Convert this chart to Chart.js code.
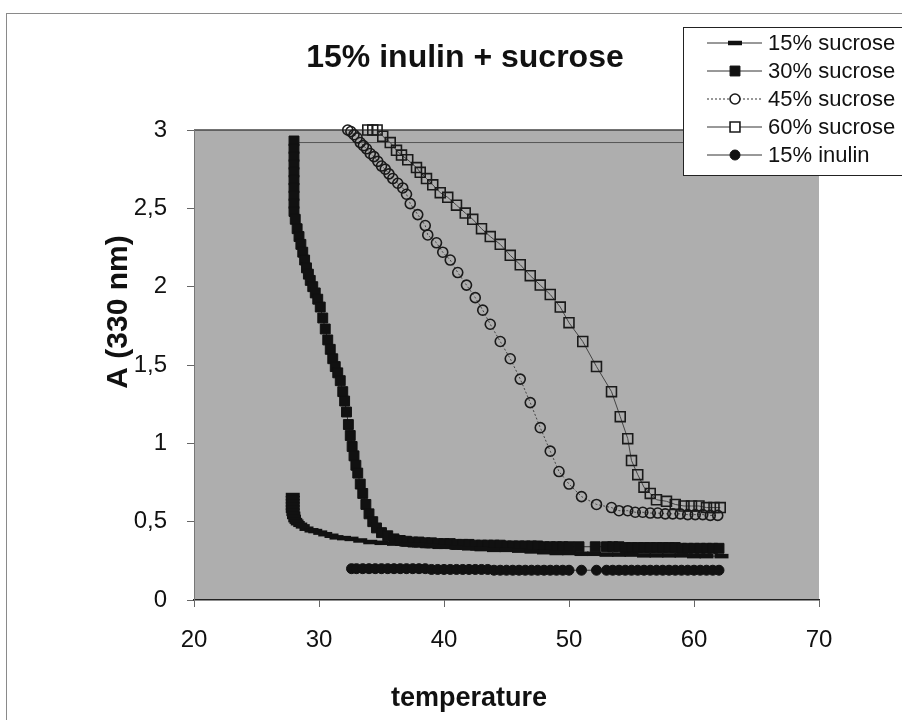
<!DOCTYPE html>
<html>
<head>
<meta charset="utf-8">
<title>15% inulin + sucrose</title>
<script src="https://cdn.jsdelivr.net/npm/chart.js@4.4.0/dist/chart.umd.min.js"></script>
<style>
  html, body { margin: 0; padding: 0; background: #fff; }
  canvas { display: block; }
</style>
</head>
<body>
<canvas id="scatter-chartcanvas" width="902" height="720"></canvas>
<script>
// values: temperature (x) and A at 330 nm (y)
var t15 = [27.9,27.9,27.9,27.9,27.9,27.9,27.95,28.0,28.1,28.2,28.3,28.5,28.7,29.0,29.4,29.7,30.1,30.5,31.0,31.4,32.0,32.6,33.3,34.1,35.0,36.0,37.0,38.0,39.0,40.0,41.0,42.0,43.0,44.0,45.0,46.0,47.0,48.0,49.0,50.0,51.0,52.0,53.0,54.0,55.0,56.0,57.0,58.0,59.0,60.0,61.0,62.2];
var a15 = [0.67,0.65,0.63,0.61,0.59,0.57,0.55,0.53,0.51,0.50,0.49,0.48,0.47,0.455,0.445,0.44,0.43,0.42,0.41,0.40,0.395,0.39,0.38,0.37,0.365,0.36,0.355,0.35,0.345,0.34,0.335,0.33,0.325,0.32,0.32,0.315,0.31,0.305,0.30,0.30,0.295,0.295,0.29,0.29,0.29,0.285,0.285,0.285,0.285,0.28,0.28,0.28];

var t30 = [28.0,28.0,28.0,28.0,28.0,28.0,28.0,28.0,28.0,28.0,28.1,28.25,28.4,28.55,28.7,28.85,29.0,29.15,29.3,29.5,29.7,29.9,30.1,30.3,30.5,30.7,30.9,31.1,31.3,31.5,31.7,31.9,32.05,32.2,32.35,32.5,32.65,32.8,32.95,33.1,33.3,33.5,33.75,34.0,34.3,34.6,35.0,35.5,36.0,36.5,37.0,37.5,38.0,38.5,39.0,39.5,40.0,40.5,41.0,41.5,42.0,42.5,43.0,43.5,44.0,44.5,45.0,45.5,46.0,46.5,47.0,47.5,48.0,48.5,49.0,49.5,50.0,50.8,52.1,53.0,53.5,54.0,54.5,55.0,55.5,56.0,56.5,57.0,57.5,58.0,58.5,59.0,59.5,60.0,60.5,61.0,61.5,62.0];
var a30 = [2.93,2.88,2.83,2.78,2.73,2.68,2.63,2.58,2.53,2.48,2.43,2.37,2.32,2.27,2.22,2.17,2.12,2.08,2.04,2.00,1.96,1.92,1.87,1.80,1.73,1.66,1.60,1.54,1.49,1.45,1.40,1.33,1.27,1.20,1.12,1.05,0.98,0.92,0.86,0.81,0.74,0.68,0.61,0.55,0.50,0.46,0.43,0.41,0.39,0.38,0.375,0.37,0.37,0.365,0.365,0.36,0.36,0.36,0.355,0.355,0.355,0.35,0.35,0.35,0.35,0.35,0.345,0.345,0.345,0.345,0.345,0.345,0.34,0.34,0.34,0.34,0.34,0.34,0.34,0.34,0.34,0.34,0.335,0.335,0.335,0.335,0.335,0.335,0.335,0.335,0.335,0.33,0.33,0.33,0.33,0.33,0.33,0.33];

var t45 = [32.3,32.55,32.8,33.05,33.3,33.55,33.8,34.1,34.4,34.7,35.0,35.3,35.6,35.9,36.3,36.7,37.0,37.3,37.9,38.5,38.7,39.4,39.9,40.5,41.1,41.8,42.5,43.1,43.7,44.5,45.3,46.1,46.9,47.7,48.5,49.2,50.0,51.0,52.2,53.4,54.0,54.7,55.3,55.9,56.5,57.1,57.7,58.3,58.9,59.5,60.1,60.7,61.3,61.9];
var a45 = [3.0,2.99,2.97,2.95,2.92,2.90,2.88,2.85,2.83,2.80,2.77,2.75,2.72,2.69,2.66,2.63,2.59,2.53,2.46,2.39,2.33,2.28,2.22,2.17,2.09,2.01,1.93,1.85,1.76,1.65,1.54,1.41,1.26,1.10,0.95,0.82,0.74,0.66,0.61,0.59,0.57,0.57,0.56,0.56,0.555,0.555,0.55,0.55,0.55,0.545,0.545,0.545,0.54,0.54];

var t60 = [33.9,34.3,34.65,35.1,35.7,36.2,36.6,37.1,37.8,38.1,38.6,39.1,39.7,40.3,41.0,41.7,42.3,43.0,43.7,44.5,45.3,46.1,46.9,47.7,48.5,49.3,50.0,51.1,52.2,53.4,54.1,54.7,55.0,55.5,56.0,56.5,57.0,57.8,58.5,59.2,59.8,60.4,61.0,61.6,62.1];
var a60 = [3.0,3.0,3.0,2.96,2.92,2.87,2.84,2.81,2.76,2.73,2.69,2.65,2.60,2.57,2.52,2.47,2.43,2.37,2.32,2.27,2.20,2.14,2.07,2.01,1.95,1.87,1.77,1.65,1.49,1.33,1.17,1.03,0.89,0.80,0.72,0.68,0.64,0.63,0.61,0.60,0.60,0.60,0.59,0.59,0.59];

var tInulin = [32.6,33.0,33.5,34.0,34.5,35.0,35.5,36.0,36.5,37.0,37.5,38.0,38.5,39.0,39.5,40.0,40.5,41.0,41.5,42.0,42.5,43.0,43.5,44.0,44.5,45.0,45.5,46.0,46.5,47.0,47.5,48.0,48.5,49.0,49.5,50.0,51.0,52.2,53.0,53.5,54.0,54.5,55.0,55.5,56.0,56.5,57.0,57.5,58.0,58.5,59.0,59.5,60.0,60.5,61.0,61.5,62.0];
var aInulin = [0.20,0.20,0.20,0.20,0.20,0.20,0.20,0.20,0.20,0.20,0.20,0.20,0.20,0.195,0.195,0.195,0.195,0.195,0.195,0.195,0.195,0.195,0.195,0.19,0.19,0.19,0.19,0.19,0.19,0.19,0.19,0.19,0.19,0.19,0.19,0.19,0.19,0.19,0.19,0.19,0.19,0.19,0.19,0.19,0.19,0.19,0.19,0.19,0.19,0.19,0.19,0.19,0.19,0.19,0.19,0.19,0.19];

// thin straight line near the top of the plot
var tTopLine = [28.4, 70];
var aTopLine = [2.92, 2.92];

var xTicks = [20, 30, 40, 50, 60, 70];
var yTicks = [0, 0.5, 1, 1.5, 2, 2.5, 3];

function pts(xs, ys) {
	var out = [];
	var n = Math.min(xs.length, ys.length);
	for (var i = 0; i < n; i++) {
		out.push({ x: xs[i], y: ys[i] });
	}
	return out;
}

Chart.defaults.font.family = "'Liberation Sans', Arial, sans-serif";
Chart.defaults.color = "#111";

function drawMarker(ctx, style, x, y, r, fill, stroke, bw) {
	ctx.save();
	ctx.lineWidth = bw;
	ctx.strokeStyle = stroke;
	ctx.fillStyle = fill;
	ctx.beginPath();
	if (style === "circle") {
		ctx.arc(x, y, r, 0, Math.PI * 2);
	} else if (style === "rect") {
		var s = r * Math.SQRT1_2;
		ctx.rect(x - s, y - s, 2 * s, 2 * s);
	} else if (style === "line") {
		ctx.moveTo(x - r, y);
		ctx.lineTo(x + r, y);
	}
	if (style !== "line") ctx.fill();
	ctx.stroke();
	ctx.restore();
}

var paperPlugin = {
	id: "paper",
	beforeDraw: function(chart) {
		var ctx = chart.ctx, a = chart.chartArea;
		ctx.save();
		ctx.fillStyle = "#fff";
		ctx.fillRect(0, 0, chart.width, chart.height);
		ctx.strokeStyle = "#8a8a8a";
		ctx.lineWidth = 1;
		ctx.strokeRect(6.5, 13.5, chart.width, chart.height);
		ctx.fillStyle = "#aeaeae";
		ctx.fillRect(a.left, a.top, a.right - a.left, a.bottom - a.top);
		ctx.strokeStyle = "#444";
		ctx.lineWidth = 1.5;
		ctx.beginPath();
		ctx.moveTo(a.left, a.top);
		ctx.lineTo(a.right, a.top);
		ctx.stroke();
		ctx.restore();
	},
	afterDraw: function(chart) {
		var ctx = chart.ctx;
		ctx.save();
		ctx.fillStyle = "#111";
		ctx.textAlign = "center";
		ctx.textBaseline = "middle";
		// title
		ctx.font = "bold 32px 'Liberation Sans', Arial, sans-serif";
		ctx.fillText("15% inulin + sucrose", 465, 58);
		// x axis title
		ctx.font = "bold 27px 'Liberation Sans', Arial, sans-serif";
		ctx.fillText("temperature", 469, 699);
		// y axis title
		ctx.font = "bold 30px 'Liberation Sans', Arial, sans-serif";
		ctx.save();
		ctx.translate(119, 312);
		ctx.rotate(-Math.PI / 2);
		ctx.fillText("A (330 nm)", 0, 0);
		ctx.restore();

		// legend box
		var lx = 683, ly = 27;
		ctx.fillStyle = "#fff";
		ctx.fillRect(lx, ly, chart.width - lx + 2, 148);
		ctx.strokeStyle = "#222";
		ctx.lineWidth = 1;
		ctx.strokeRect(lx + 0.5, ly + 0.5, chart.width - lx + 2, 148);
		ctx.font = "22px 'Liberation Sans', Arial, sans-serif";
		ctx.textAlign = "left";
		var row = 0;
		chart.data.datasets.forEach(function(ds) {
			if (!ds.inLegend) return;
			var y = 43 + row * 28;
			ctx.save();
			ctx.strokeStyle = "#333";
			ctx.lineWidth = 1;
			ctx.setLineDash(ds.borderDash || []);
			ctx.beginPath();
			ctx.moveTo(707, y);
			ctx.lineTo(762, y);
			ctx.stroke();
			ctx.restore();
			var fill = ds.pointBackgroundColor === "rgba(0,0,0,0)" ? "#fff" : ds.pointBackgroundColor;
			drawMarker(ctx, ds.pointStyle, 735, y, ds.pointRadius, fill, ds.pointBorderColor, ds.pointBorderWidth);
			ctx.fillStyle = "#111";
			ctx.fillText(ds.label, 768, y + 1);
			row++;
		});
		ctx.restore();
	}
};

var ctx = document.getElementById("scatter-chartcanvas");

var data = {
	datasets: [
		{
			label: "15% sucrose",
			inLegend: true,
			data: pts(t15, a15),
			showLine: true,
			borderColor: "#333",
			borderWidth: 1,
			pointStyle: "line",
			pointRadius: 7,
			pointBorderWidth: 4.5,
			pointBorderColor: "#111",
			pointBackgroundColor: "#111",
			clip: false
		},
		{
			label: "30% sucrose",
			inLegend: true,
			data: pts(t30, a30),
			showLine: true,
			borderColor: "#333",
			borderWidth: 1,
			pointStyle: "rect",
			pointRadius: 7,
			pointBorderWidth: 1,
			pointBorderColor: "#111",
			pointBackgroundColor: "#111",
			clip: false
		},
		{
			label: "45% sucrose",
			inLegend: true,
			data: pts(t45, a45),
			showLine: true,
			borderColor: "#444",
			borderWidth: 1,
			borderDash: [2, 2],
			pointStyle: "circle",
			pointRadius: 5,
			pointBorderWidth: 1.6,
			pointBorderColor: "#1a1a1a",
			pointBackgroundColor: "rgba(0,0,0,0)",
			clip: false
		},
		{
			label: "60% sucrose",
			inLegend: true,
			data: pts(t60, a60),
			showLine: true,
			borderColor: "#444",
			borderWidth: 1,
			pointStyle: "rect",
			pointRadius: 7,
			pointBorderWidth: 1.6,
			pointBorderColor: "#1a1a1a",
			pointBackgroundColor: "rgba(0,0,0,0)",
			clip: false
		},
		{
			label: "15% inulin",
			inLegend: true,
			data: pts(tInulin, aInulin),
			showLine: true,
			borderColor: "#333",
			borderWidth: 1,
			pointStyle: "circle",
			pointRadius: 5,
			pointBorderWidth: 1,
			pointBorderColor: "#111",
			pointBackgroundColor: "#111",
			clip: false
		},
		{
			label: "",
			inLegend: false,
			data: pts(tTopLine, aTopLine),
			showLine: true,
			borderColor: "#555",
			borderWidth: 1,
			pointRadius: 0,
			clip: false
		}
	]
};

var options = {
	responsive: false,
	animation: false,
	devicePixelRatio: 1,
	layout: {
		padding: { top: 130, right: 83, bottom: 0, left: 0 }
	},
	plugins: {
		legend: { display: false },
		title: { display: false },
		tooltip: { enabled: false }
	},
	scales: {
		x: {
			type: "linear",
			min: xTicks[0],
			max: xTicks[xTicks.length - 1],
			afterBuildTicks: function(scale) {
				scale.ticks = xTicks.map(function(v) { return { value: v }; });
			},
			afterFit: function(scale) { scale.height = 120; },
			border: { display: true, color: "#222", width: 1.5 },
			grid: { drawOnChartArea: false, drawTicks: true, tickLength: 7, color: "#666" },
			ticks: { font: { size: 24 }, color: "#111", padding: 19, maxRotation: 0 }
		},
		y: {
			type: "linear",
			min: yTicks[0],
			max: yTicks[yTicks.length - 1],
			afterBuildTicks: function(scale) {
				scale.ticks = yTicks.map(function(v) { return { value: v }; });
			},
			afterFit: function(scale) { scale.width = 194; },
			border: { display: true, color: "#777", width: 1 },
			grid: { drawOnChartArea: false, drawTicks: true, tickLength: 7, color: "#666" },
			ticks: {
				font: { size: 24 },
				color: "#111",
				padding: 20,
				callback: function(value) { return String(value).replace(".", ","); }
			}
		}
	}
};

var chart = new Chart(ctx, {
	type: "scatter",
	data: data,
	options: options,
	plugins: [paperPlugin]
});
</script>
</body>
</html>
